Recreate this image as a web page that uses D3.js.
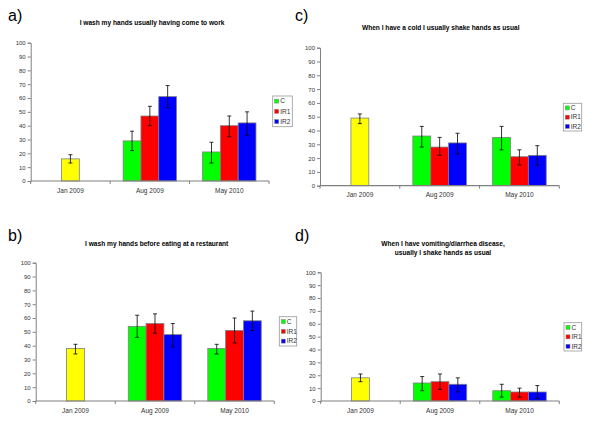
<!DOCTYPE html>
<html><head><meta charset="utf-8">
<script src="https://cdn.jsdelivr.net/npm/d3@7"></script>
<style>body{margin:0;background:#fff}svg{display:block}text{font-family:"Liberation Sans",Arial,sans-serif}</style>
</head><body><svg id="c" width="600" height="435"></svg>
<script>
const categories = ["Jan 2009", "Aug 2009", "May 2010"];
const seriesNames = ["C", "IR1", "IR2"];
const baselineName = "Jan";
const yTicks = [0, 10, 20, 30, 40, 50, 60, 70, 80, 90, 100];
const colors = {Jan: "#FFFF00", C: "#00FF00", IR1: "#FF0000", IR2: "#0000FF"};

// a) I wash my hands usually having come to work
const workMean = [[16], [29, 47, 61], [21, 40, 42]];
const workLow  = [[13], [22, 40, 53], [13, 32, 33]];
const workHigh = [[19], [36, 54, 69], [28, 47, 50]];
// b) I wash my hands before eating at a restaurant
const restMean = [[38], [54, 56, 48], [38, 51, 58]];
const restLow  = [[34], [46, 49, 39], [34, 42, 51]];
const restHigh = [[41], [62, 63, 56], [41, 60, 65]];
// c) When I have a cold I usually shake hands as usual
const coldMean = [[49], [36, 28, 31], [35, 21, 22]];
const coldLow  = [[45], [28, 22, 23], [26, 15, 15]];
const coldHigh = [[52], [43, 35, 38], [43, 26, 29]];
// d) When I have vomiting/diarrhea disease, usually I shake hands as usual
const vomMean = [[18], [14, 15, 13], [8, 7, 7]];
const vomLow  = [[15], [8, 9, 7], [3, 3, 2]];
const vomHigh = [[21], [19, 21, 18], [13, 10, 12]];

const panels = [
  {tag: "a)", title: ["I wash my hands usually having come to work"], mean: workMean, low: workLow, high: workHigh,
   x0: 30.7, x1: 269, yTop: 42.7, yBot: 181, tx: 152, ty: 25, lx: 8, ly: 21, xly: 192.5,
   leg: {x: 272.7, y: 96, w: 19.6, h: 30.7}},
  {tag: "b)", title: ["I wash my hands before eating at a restaurant"], mean: restMean, low: restLow, high: restHigh,
   x0: 35.7, x1: 274.3, yTop: 262.7, yBot: 401, tx: 156.7, ty: 245.5, lx: 8, ly: 241, xly: 412.5,
   leg: {x: 279.3, y: 316.7, w: 17.4, h: 29.3}},
  {tag: "c)", title: ["When I have a cold I usually shake hands as usual"], mean: coldMean, low: coldLow, high: coldHigh,
   x0: 320, x1: 559.3, yTop: 47.7, yBot: 185.7, tx: 440.7, ty: 30, lx: 295, ly: 21, xly: 196.5,
   leg: {x: 563.3, y: 103.3, w: 18.4, h: 27.7}},
  {tag: "d)", title: ["When I have vomiting/diarrhea disease,", "usually I shake hands as usual"], mean: vomMean, low: vomLow, high: vomHigh,
   x0: 320.7, x1: 559.3, yTop: 272.3, yBot: 401, tx: 443, ty: 245.5, lx: 295, ly: 241, xly: 412.5,
   leg: {x: 564, y: 322.7, w: 17.7, h: 28.3}}
];

const svg = d3.select("#c");
const axisColor = "#808080";

panels.forEach(p => {
  const g = svg.append("g");
  const x = d3.scaleBand().domain(categories).range([p.x0, p.x1]).padding(0);
  const y = d3.scaleLinear().domain([0, 100]).range([p.yBot, p.yTop]);
  const bw = x.bandwidth() * 0.224;

  g.append("text").attr("x", p.lx).attr("y", p.ly).attr("font-size", 16).attr("fill", "#000").text(p.tag);
  p.title.forEach((t, i) => {
    g.append("text").attr("x", p.tx).attr("y", p.ty + i * 9.4).attr("text-anchor", "middle")
      .attr("font-size", 6.6).attr("font-weight", "bold").attr("fill", "#000").text(t);
  });

  // y axis
  const ya = g.append("g").attr("transform", `translate(${p.x0},0)`)
    .call(d3.axisLeft(y).tickValues(yTicks).tickSize(3).tickPadding(2));
  ya.select(".domain").attr("stroke", axisColor);
  ya.selectAll(".tick line").attr("stroke", axisColor);
  ya.selectAll(".tick text").attr("font-size", 6).attr("fill", "#333").attr("font-family", '"Liberation Sans",Arial,sans-serif');

  // bars
  categories.forEach((cat, ci) => {
    const vals = p.mean[ci];
    const names = vals.length === 1 ? [baselineName] : seriesNames;
    const inner = d3.scaleBand().domain(names).range([0, bw * names.length]);
    const start = x(cat) + x.bandwidth() / 2 - bw * names.length / 2;
    vals.forEach((v, i) => {
      const bx = start + inner(names[i]);
      g.append("rect").attr("x", bx).attr("y", y(v)).attr("width", inner.bandwidth())
        .attr("height", y(0) - y(v)).attr("fill", colors[names[i]])
        .attr("stroke", axisColor).attr("stroke-width", 0.8);
    });
    vals.forEach((v, i) => {
      const cx = start + inner(names[i]) + inner.bandwidth() / 2;
      const lo = y(p.low[ci][i]), hi = y(p.high[ci][i]);
      g.append("line").attr("x1", cx).attr("x2", cx).attr("y1", lo).attr("y2", hi).attr("stroke", "#000").attr("stroke-width", 0.8);
      [lo, hi].forEach(yy => g.append("line").attr("x1", cx - 2).attr("x2", cx + 2).attr("y1", yy).attr("y2", yy)
        .attr("stroke", "#000").attr("stroke-width", 0.8));
    });
  });

  // x axis
  g.append("line").attr("x1", p.x0).attr("x2", p.x1).attr("y1", p.yBot).attr("y2", p.yBot)
    .attr("stroke", axisColor).attr("stroke-width", 1.2);
  const bounds = categories.map(c => x(c)).concat([p.x1]);
  bounds.forEach(bx => g.append("line").attr("x1", bx).attr("x2", bx).attr("y1", p.yBot).attr("y2", p.yBot + 3).attr("stroke", axisColor));
  categories.forEach(c => g.append("text").attr("x", x(c) + x.bandwidth() / 2).attr("y", p.xly)
    .attr("text-anchor", "middle").attr("font-size", 6.5).attr("fill", "#333").text(c));

  // legend
  const L = p.leg;
  g.append("rect").attr("x", L.x).attr("y", L.y).attr("width", L.w).attr("height", L.h)
    .attr("fill", "#fff").attr("stroke", "#999").attr("stroke-width", 0.8);
  seriesNames.forEach((s, i) => {
    const yy = L.y + L.h * (i + 0.5) / 3;
    g.append("rect").attr("x", L.x + 2).attr("y", yy - 2).attr("width", 4).attr("height", 4)
      .attr("fill", colors[s]).attr("stroke", axisColor).attr("stroke-width", 0.5);
    g.append("text").attr("x", L.x + 7.5).attr("y", yy + 2.3).attr("font-size", 6.5).attr("fill", "#333").text(s);
  });
});
</script></body></html>
